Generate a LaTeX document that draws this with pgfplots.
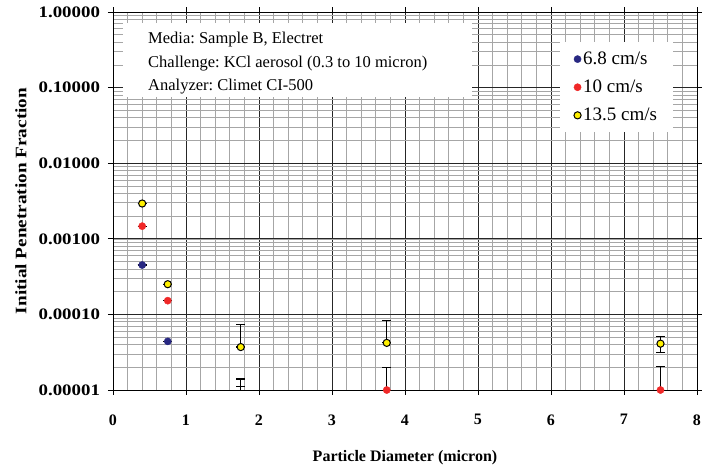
\documentclass[border=0pt]{standalone}
\usepackage{pgfplots}
\pgfplotsset{compat=1.18}
\usepackage{graphicx}
\usepackage{fontspec}
\setmainfont{Liberation Serif}
\definecolor{cnavy}{RGB}{40,40,130}
\definecolor{cred}{RGB}{240,40,40}
\definecolor{cyel}{RGB}{255,240,0}
\newcommand\yt[1]{\scalebox{1.18}[1]{#1}}
\frenchspacing
\begin{document}
\begin{tikzpicture}
\useasboundingbox (-113bp,-76bp) rectangle (601bp,390bp);
\begin{axis}[
  at={(0,0)}, anchor=south west,
  scale only axis, width=584bp, height=378bp,
  xmin=0, xmax=8, ymode=log, ymin=1e-5, ymax=1,
  xtick={0,1,...,8}, minor x tick num=4,
  xticklabels={0,1,2,3,4,5,6,7,8},
  ytick={1e-5,1e-4,1e-3,1e-2,1e-1,1},
  yticklabels={\yt{0.00001},\yt{0.00010},\yt{0.00100},\yt{0.01000},\yt{0.10000},\yt{1.00000}},
  grid=both,
  major grid style={black!85, line width=0.7bp},
  minor grid style={black!35, line width=0.6bp},
  tick align=outside, major tick length=5bp, minor tick length=0pt,
  axis line style={black, line width=0.9bp},
  tick style={black, line width=0.7bp},
  xticklabel style={font=\fontsize{16bp}{16bp}\selectfont\bfseries, yshift=-16bp},
  yticklabel style={font=\fontsize{16bp}{16bp}\selectfont\bfseries, xshift=-4.5bp},
  xlabel={Particle Diameter (micron)},
  ylabel={\scalebox{1.2}[1]{Initial Penetration Fraction}},
  label style={font=\fontsize{16bp}{16bp}\selectfont\bfseries},
  xlabel style={at={(axis description cs:0.5,0)}, anchor=center, yshift=-68bp},
  ylabel style={at={(axis description cs:-0.1575,0.5)}, anchor=center},
  legend style={at={(rel axis cs:0.765,0.921)}, anchor=north west, draw=none, fill=white,
    font=\fontsize{19bp}{19bp}\selectfont, row sep=10bp, inner xsep=14bp, inner ysep=8bp},
  legend cell align=left,
  legend image code/.code={\draw[mark repeat=2, mark phase=2, #1] plot coordinates {(0bp,0bp) (7bp,0bp) (16bp,0bp)};},
  error bars/error bar style={draw=black, line width=1.1bp, solid},
  error bars/error mark options={rotate=90, mark size=4.6bp, line width=1.1bp, draw=black},
]
% 6.8 cm/s
\addplot[only marks, mark=*, mark size=3.6bp, mark options={fill=cnavy, draw=cnavy},
  error bars/.cd, y dir=both, y explicit]
  coordinates {
  (0.4,4.5e-4) +- (0,0)
  (0.75,4.4e-5) +- (0,0)
  };
\addlegendentry{6.8 cm/s}
% 10 cm/s
\addplot[only marks, mark=*, mark size=3.6bp, mark options={fill=cred, draw=cred},
  error bars/.cd, y dir=plus, y explicit]
  coordinates {
  (0.4,1.47e-3) += (0,0)
  (0.75,1.52e-4) += (0,0)
  (3.75,1.0e-5) += (0,1.0e-5)
  (7.5,1.0e-5) += (0,1.05e-5)
  };
\addlegendentry{10 cm/s}
% 13.5 cm/s
\addplot[only marks, mark=*, mark size=3.6bp, mark options={fill=cyel, draw=black, line width=1bp},
  error bars/.cd, y dir=both, y explicit]
  coordinates {
  (0.4,2.93e-3) +- (0,0)
  (0.75,2.51e-4) +- (0,0)
  (1.75,3.7e-5) += (0,3.7e-5) -= (0,0)
  (3.75,4.2e-5) += (0,4.1e-5) -= (0,0)
  (7.5,4.1e-5) += (0,1.0e-5) -= (0,1.0e-5)
  };
\addlegendentry{13.5 cm/s}
% points below the axis minimum at 1.75 micron: only their error bars show
\addplot[forget plot, draw=none, mark=none,
  error bars/.cd, y dir=plus, y explicit]
  coordinates {
  (1.75,8e-6) += (0,3e-6)
  (1.75,8e-6) += (0,6e-6)
  };
\fill[white] (rel axis cs:0.0171,0.971) rectangle (rel axis cs:0.6147,0.7751);
\begin{scope}[every node/.style={anchor=base west, inner sep=0pt, font=\fontsize{16.5bp}{20bp}\selectfont}]
\node at (rel axis cs:0.0599,0.9164) {Media: Sample B, Electret};
\node at (rel axis cs:0.0599,0.8542) {Challenge: KCl aerosol (0.3 to 10 micron)};
\node at (rel axis cs:0.0599,0.7921) {Analyzer: Climet CI-500};
\end{scope}
\end{axis}
\end{tikzpicture}
\end{document}
